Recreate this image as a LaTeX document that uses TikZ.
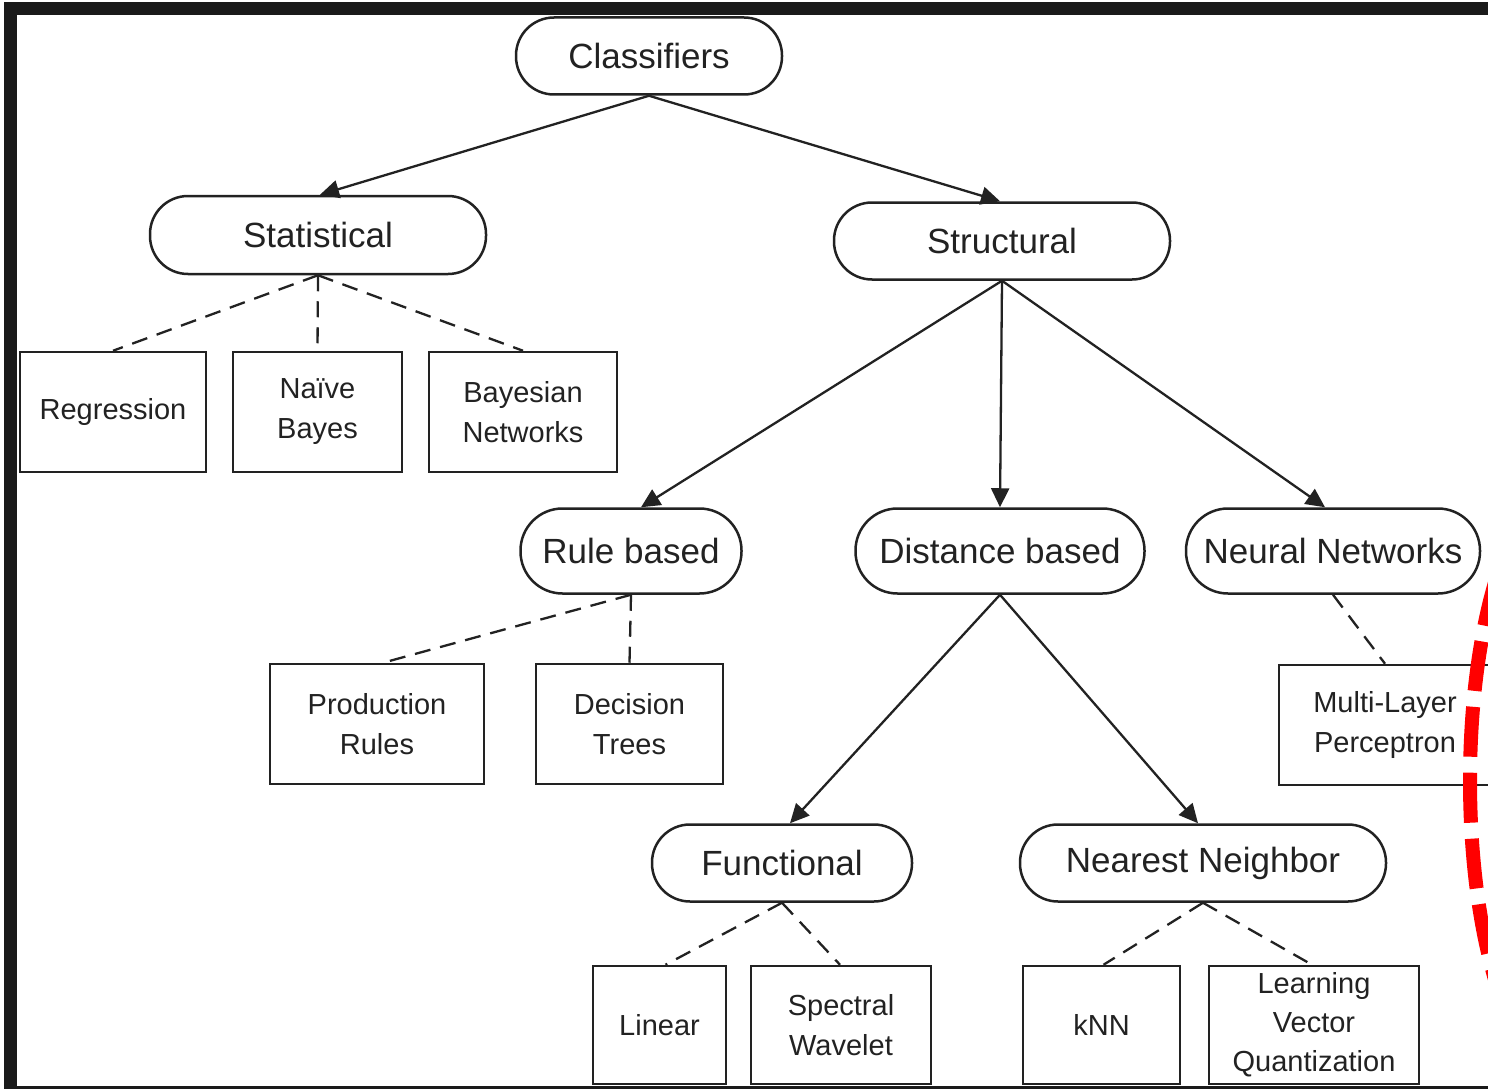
\documentclass[tikz,border=0pt]{standalone}
\usepackage{fontspec}
\setmainfont{Liberation Sans}
\usetikzlibrary{arrows.meta}
\definecolor{ink}{HTML}{222222}
\definecolor{framegray}{HTML}{1A1A1A}

\begin{document}
\begin{tikzpicture}[x=1pt,y=-1pt,
  term/.style={draw=ink, line width=2.5pt, inner sep=0pt, text=ink,
    font=\fontsize{35}{40}\selectfont},
  leaf/.style={draw=ink, line width=2.5pt, inner sep=0pt, text=ink, align=center,
    font=\fontsize{29}{40}\selectfont, minimum height=120pt},
  arrowlink/.style={draw=ink, line width=2.3pt, -{Triangle[length=19pt,width=18pt]}},
  dashlink/.style={draw=ink, line width=2.3pt, dash pattern=on 16pt off 10pt},
]
\useasboundingbox (0,0) rectangle (1488,1089);
\fill[white] (0,0) rectangle (1488,1089);
\clip (0,0) rectangle (1488,1089);

% top level
\node[term, rounded corners=38pt, minimum width=266pt, minimum height=77pt] (cls) at (649,56) {Classifiers};
\node[term, rounded corners=38pt, minimum width=336pt, minimum height=78pt] (stat) at (318,235) {Statistical};
\node[term, rounded corners=38pt, minimum width=336pt, minimum height=77pt] (struct) at (1002,241) {Structural};

% statistical methods
\node[leaf, minimum width=186pt] (reg) at (113,412) {Regression};
\node[leaf, minimum width=169pt] (nb) at (317.5,412) {Naïve\\Bayes};
\node[leaf, minimum width=188pt] (bn) at (523,412) {Bayesian\\Networks};

% structural families
\node[term, rounded corners=42pt, minimum width=221pt, minimum height=85pt] (rule) at (631,551) {Rule based};
\node[term, rounded corners=42pt, minimum width=289pt, minimum height=85pt] (dist) at (1000,551) {Distance based};
\node[term, rounded corners=42pt, minimum width=294pt, minimum height=85pt] (nn) at (1333,551) {Neural Networks};

% rule based methods
\node[leaf, minimum width=214pt] (prod) at (377,724) {Production\\Rules};
\node[leaf, minimum width=187pt] (dt) at (629.5,724) {Decision\\Trees};

% neural network methods
\node[leaf, minimum width=212pt] (mlp) at (1385,725) {Multi-Layer\\Perceptron};

% distance based families
\node[term, rounded corners=38pt, minimum width=260pt, minimum height=77pt] (func) at (782,863) {Functional};
\node[term, rounded corners=38pt, minimum width=366pt, minimum height=77pt] (near) at (1203,863) {Nearest Neighbor};

% bottom row
\node[leaf, minimum width=133pt, minimum height=118pt] (lin) at (659.5,1025) {Linear};
\node[leaf, minimum width=180pt, minimum height=118pt] (spec) at (841,1025) {Spectral\\Wavelet};
\node[leaf, minimum width=157pt, minimum height=118pt] (knn) at (1101.5,1025) {kNN};
\node[leaf, minimum width=210pt, minimum height=118pt, font=\fontsize{29}{39}\selectfont] (lvq) at (1314,1025) {Learning\\Vector\\Quantization};

% solid arrows
\draw[arrowlink] (cls.south) -- ([xshift=2pt]stat.north);
\draw[arrowlink] (cls.south) -- ([xshift=-2pt]struct.north);
\draw[arrowlink] (struct.south) -- ([xshift=10pt]rule.north);
\draw[arrowlink] (struct.south) -- (dist.north);
\draw[arrowlink] (struct.south) -- ([xshift=-8pt]nn.north);
\draw[arrowlink] (dist.south) -- ([xshift=8pt]func.north);
\draw[arrowlink] (dist.south) -- ([xshift=-5pt]near.north);

% dashed links
\draw[dashlink] (stat.south) -- (reg.north);
\draw[dashlink] (stat.south) -- (nb.north);
\draw[dashlink] (stat.south) -- (bn.north);
\draw[dashlink] (rule.south) -- ([xshift=6pt]prod.north);
\draw[dashlink] (rule.south) -- (dt.north);
\draw[dashlink] (nn.south) -- (mlp.north);
\draw[dashlink] (func.south) -- ([xshift=6pt]lin.north);
\draw[dashlink] (func.south) -- ([xshift=-1pt]spec.north);
\draw[dashlink] (near.south) -- ([xshift=2pt]knn.north);
\draw[dashlink] (near.south) -- ([xshift=-2pt]lvq.north);

% frame
\fill[framegray] (4,2) rectangle (1488,15);
\fill[framegray] (4,2) rectangle (17,1089);
\fill[framegray] (4,1086) rectangle (1488,1089);

% red dashed mark at the right edge
\draw[red, line width=14pt, dash pattern=on 50pt off 16pt] (1570,781) ellipse [x radius=100pt, y radius=300pt];
\end{tikzpicture}
\end{document}
